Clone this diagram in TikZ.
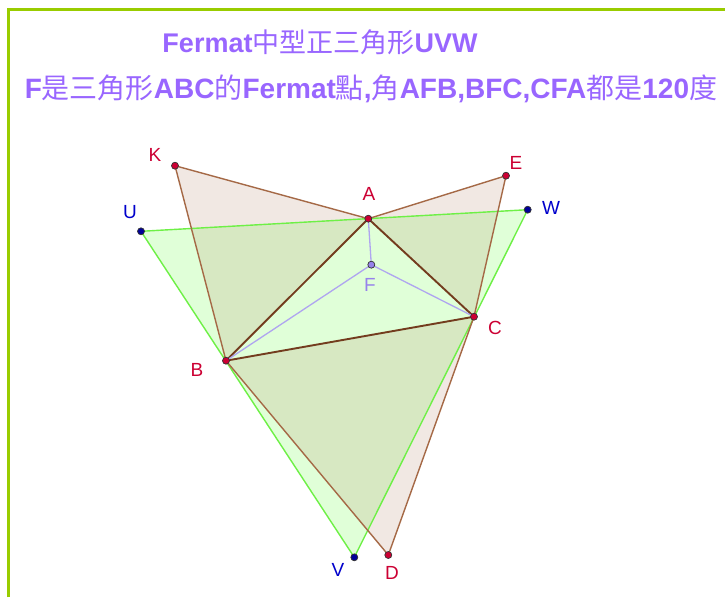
\documentclass[tikz,border=0pt]{standalone}
\usepackage{fontspec}
\setmainfont{Liberation Sans}
\newfontfamily\cjk{Noto Sans CJK TC}
\definecolor{titlepurple}{RGB}{153,102,255}
\definecolor{framegreen}{RGB}{153,204,0}
\definecolor{triline}{RGB}{165,105,70}
\definecolor{sideline}{RGB}{115,60,30}
\definecolor{uvwline}{RGB}{110,240,70}
\definecolor{uvwfill}{RGB}{224,255,216}
\definecolor{ptred}{RGB}{204,0,51}
\definecolor{ptblue}{RGB}{0,0,153}
\definecolor{lblblue}{RGB}{0,0,204}
\definecolor{flav}{RGB}{150,130,235}
\definecolor{fline}{RGB}{175,165,240}
\newcommand{\cjktxt}[1]{{\cjk\mdseries #1}}

\begin{document}
\begin{tikzpicture}[
        x=1pt, y=-1pt,
        dotpt/.style={circle, draw=black!80, line width=0.7pt, inner sep=0pt,
            minimum size=7pt},
        lbl/.style={font=\fontsize{19}{22}\selectfont, inner sep=0pt},
        ttl/.style={font=\fontsize{27}{31}\selectfont\bfseries,
            text=titlepurple, inner sep=0pt}
    ]
    \useasboundingbox (0,0) rectangle (725,597);
    \fill[white] (0,0) rectangle (725,597);
    % frame
    \draw[framegreen, line width=3pt] (8,597) -- (8,9) -- (725,9);

    % points
    \coordinate (K) at (175,165.7);
    \coordinate (E) at (506,175.7);
    \coordinate (A) at (368.3,218.7);
    \coordinate (U) at (141,231.3);
    \coordinate (W) at (527.7,209.7);
    \coordinate (F) at (371.3,264.7);
    \coordinate (C) at (474,316.7);
    \coordinate (B) at (226,360.7);
    \coordinate (V) at (354.3,557.3);
    \coordinate (D) at (388.3,555);

    % fills
    \fill[uvwfill] (U) -- (V) -- (W) -- cycle;
    \fill[triline, fill opacity=0.15] (K) -- (A) -- (B) -- cycle;
    \fill[triline, fill opacity=0.15] (A) -- (E) -- (C) -- cycle;
    \fill[triline, fill opacity=0.15] (B) -- (C) -- (D) -- cycle;

    % edges
    \draw[uvwline, line width=1.4pt] (U) -- (V) -- (W) -- cycle;
    \draw[triline, line width=1.4pt] (A) -- (K) -- (B) -- (D) -- (C) -- (E) -- cycle;
    \draw[sideline, line width=1.9pt] (A) -- (B) -- (C) -- cycle;
    \draw[fline, line width=1.3pt] (A) -- (F) (B) -- (F) (C) -- (F);

    % dots
    \foreach \p in {K,E,A,C,B,D} {
        \node[dotpt, fill=ptred] (d\p) at (\p) {};
    }
    \foreach \p in {U,W,V} {
        \node[dotpt, fill=ptblue] (d\p) at (\p) {};
    }
    \node[dotpt, fill=flav] (dF) at (F) {};

    % labels
    \node[lbl, text=ptred] (lK) at (155,155) {K};
    \node[lbl, text=ptred] (lE) at (516,163) {E};
    \node[lbl, text=ptred] (lA) at (369,194) {A};
    \node[lbl, text=ptred] (lC) at (495,328) {C};
    \node[lbl, text=ptred] (lB) at (197,370) {B};
    \node[lbl, text=ptred] (lD) at (392,573) {D};
    \node[lbl, text=lblblue] (lU) at (130,212) {U};
    \node[lbl, text=lblblue] (lW) at (551,208) {W};
    \node[lbl, text=lblblue] (lV) at (338,570) {V};
    \node[lbl, text=flav] (lF) at (370,285) {F};

    % title
    \node[ttl] (title) at (320,42) {Fermat\cjktxt{中型正三角形}UVW};
    \node[ttl, font=\fontsize{28}{32}\selectfont\bfseries] (subtitle) at (371,89)
        {F\cjktxt{是三角形}ABC\cjktxt{的}Fermat\cjktxt{點},\cjktxt{角}AFB,BFC,CFA\cjktxt{都是}120\cjktxt{度}};
\end{tikzpicture}
\end{document}
